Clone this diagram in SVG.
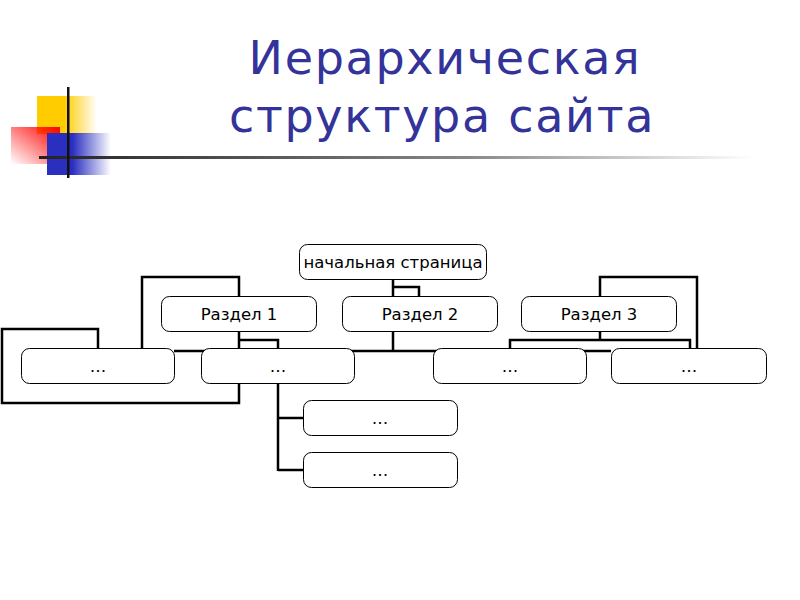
<svg xmlns="http://www.w3.org/2000/svg" width="800" height="600" viewBox="0 0 800 600">
<defs>
<linearGradient id="gy" x1="0" x2="1" y1="0" y2="0"><stop offset="0" stop-color="#FFCC00"/><stop offset="0.45" stop-color="#FFCC00"/><stop offset="1" stop-color="#FFCC00" stop-opacity="0"/></linearGradient>
<linearGradient id="gr" x1="1" x2="0" y1="0" y2="1"><stop offset="0" stop-color="#FF0000"/><stop offset="1" stop-color="#FF0000" stop-opacity="0"/></linearGradient>
<linearGradient id="gb" x1="0" x2="1" y1="0" y2="0"><stop offset="0" stop-color="#2B2FC0"/><stop offset="0.4" stop-color="#2B2FC0"/><stop offset="1" stop-color="#2B2FC0" stop-opacity="0"/></linearGradient>
<linearGradient id="gl" x1="0" x2="1" y1="0" y2="0"><stop offset="0" stop-color="#222"/><stop offset="0.6" stop-color="#888"/><stop offset="1" stop-color="#fff"/></linearGradient>
<style>
.title{font-family:"DejaVu Sans",sans-serif;font-size:46px;letter-spacing:1.7px;fill:#333399;text-anchor:middle}
.box{fill:#fff;stroke:#000;stroke-width:1}
.lbl{font-family:"DejaVu Sans",sans-serif;font-size:16.5px;fill:#000;text-anchor:middle}
.c{fill:none;stroke:#000;stroke-width:2.5}
</style>
</defs>
<rect width="800" height="600" fill="#fff"/>
<g id="decor">
<rect x="37" y="96" width="60" height="38" fill="url(#gy)"/>
<rect x="11" y="127" width="49" height="37" fill="url(#gr)"/>
<rect x="47" y="133" width="64" height="42" fill="url(#gb)"/>
<rect x="39" y="156" width="715" height="3" fill="url(#gl)"/>
<rect x="67" y="87" width="2.5" height="91" fill="#111"/>
</g>
<text class="title" x="445" y="74">Иерархическая</text>
<text class="title" x="442" y="132">структура сайта</text>
<g id="connectors">
<path class="c" d="M393 280V296M393 287H419V296"/>
<path class="c" d="M393 332V351M174 351H611"/>
<path class="c" d="M142 348V277H239V296"/>
<path class="c" d="M239 332V348M239 340H278V348"/>
<path class="c" d="M98 348V329H2V403H239V383"/>
<path class="c" d="M278 383V471M278 418H303M278 470H303"/>
<path class="c" d="M600 297V277H697V348"/>
<path class="c" d="M600 332V340M510 348V340H690V348"/>
</g>
<g id="home"><rect class="box" x="299.5" y="244.5" width="187" height="35" rx="8"/><text class="lbl" x="393" y="268">начальная страница</text></g>
<g id="r1"><rect class="box" x="161.5" y="296.5" width="155" height="35" rx="8"/><text class="lbl" x="239" y="320">Раздел 1</text></g>
<g id="r2"><rect class="box" x="342.5" y="296.5" width="155" height="35" rx="8"/><text class="lbl" x="420" y="320">Раздел 2</text></g>
<g id="r3"><rect class="box" x="521.5" y="296.5" width="155" height="35" rx="8"/><text class="lbl" x="599" y="320">Раздел 3</text></g>
<g id="b1"><rect class="box" x="21.5" y="348.5" width="153" height="35" rx="8"/><text class="lbl" x="98" y="372">…</text></g>
<g id="b2"><rect class="box" x="201.5" y="348.5" width="153" height="35" rx="8"/><text class="lbl" x="278" y="372">…</text></g>
<g id="b3"><rect class="box" x="433.5" y="348.5" width="153" height="35" rx="8"/><text class="lbl" x="510" y="372">…</text></g>
<g id="b4"><rect class="box" x="611.5" y="348.5" width="155" height="35" rx="8"/><text class="lbl" x="689" y="372">…</text></g>
<g id="b5"><rect class="box" x="303.5" y="400.5" width="154" height="35" rx="8"/><text class="lbl" x="380" y="424">…</text></g>
<g id="b6"><rect class="box" x="303.5" y="452.5" width="154" height="35" rx="8"/><text class="lbl" x="380" y="476">…</text></g>
</svg>
